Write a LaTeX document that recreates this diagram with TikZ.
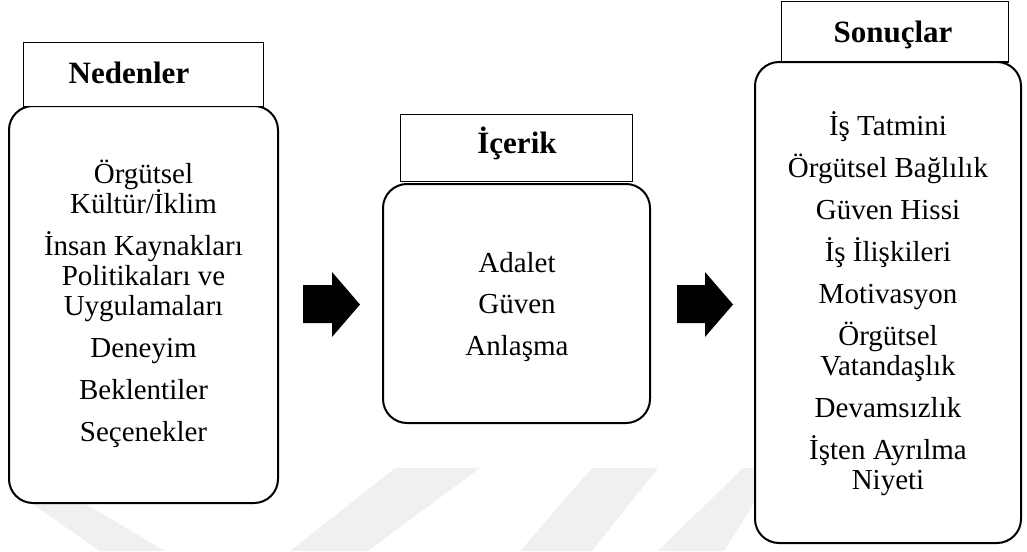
\documentclass[tikz,border=0pt]{standalone}
\usepackage{fontspec}
\setmainfont{Liberation Serif}
\newcommand{\bodyfont}{\fontsize{29}{30}\selectfont\lineskiplimit=-50pt\relax}
\newcommand{\titlefont}{\fontsize{31}{33}\selectfont\bfseries}
\newcommand{\fl}{\rule{0pt}{28pt}}
\begin{document}
\begin{tikzpicture}[x=1pt,y=-1pt,
  headbox/.style={draw=black, line width=1pt, fill=white},
  roundbox/.style={draw=black, line width=2pt, rounded corners=24pt, fill=white},
  titletext/.style={font=\titlefont, anchor=base, inner sep=0pt},
  bodytext/.style={font=\bodyfont, align=center, anchor=north, inner sep=0pt},
  blockarrow/.style={fill=black},
  wm/.style={fill=black!6}
]
\useasboundingbox (0,0) rectangle (1027,551);
% faint watermark
\fill[wm] (12,490) -- (62,490) -- (165,551) -- (100,551) -- cycle;
\fill[wm] (395,468) -- (480,468) -- (368,551) -- (290,551) -- cycle;
\fill[wm] (592,468) -- (658,468) -- (592,551) -- (520,551) -- cycle;
\fill[wm] (743,468) -- (776,468) -- (724,551) -- (658,551) -- cycle;

% Nedenler
\draw[roundbox] (9,106) rectangle (278,503);
\node[headbox, minimum width=240pt, minimum height=63pt, inner sep=0pt] (nhead) at (143,74.5) {};
\node[titletext] (ntitle) at (129,83) {Nedenler};
\node[bodytext] (nbody) at (143.5,155) {\fl Örgütsel\\Kültür/İklim\\[12pt]İnsan Kaynakları\\Politikaları ve\\Uygulamaları\\[12pt]Deneyim\\[12pt]Beklentiler\\[12pt]Seçenekler};

% İçerik
\draw[roundbox] (383,184) rectangle (650,423);
\node[headbox, minimum width=232pt, minimum height=67pt, inner sep=0pt] (chead) at (516,147.5) {};
\node[titletext] (ctitle) at (517,153) {İçerik};
\node[bodytext] (cbody) at (517,244) {\fl Adalet\\[11.5pt]Güven\\[11.5pt]Anlaşma};

% Sonuçlar
\draw[roundbox] (755,62) rectangle (1021,543);
\node[headbox, minimum width=227pt, minimum height=60pt, inner sep=0pt] (shead) at (894.5,32) {};
\node[titletext] (stitle) at (893,42) {Sonuçlar};
\node[bodytext] (sbody) at (888,107) {\fl İş Tatmini\\[12pt]Örgütsel Bağlılık\\[12pt]Güven Hissi\\[12pt]İş İlişkileri\\[12pt]Motivasyon\\[12pt]Örgütsel\\Vatandaşlık\\[12pt]Devamsızlık\\[12pt]İşten Ayrılma\\Niyeti};

% block arrows
\fill[blockarrow] (303,285) -- (332,285) -- (332,272) -- (360,304.5) -- (332,337) -- (332,323) -- (303,323) -- cycle;
\fill[blockarrow] (677,285) -- (705,285) -- (705,272) -- (733,304.5) -- (705,337) -- (705,323) -- (677,323) -- cycle;
\end{tikzpicture}
\end{document}
